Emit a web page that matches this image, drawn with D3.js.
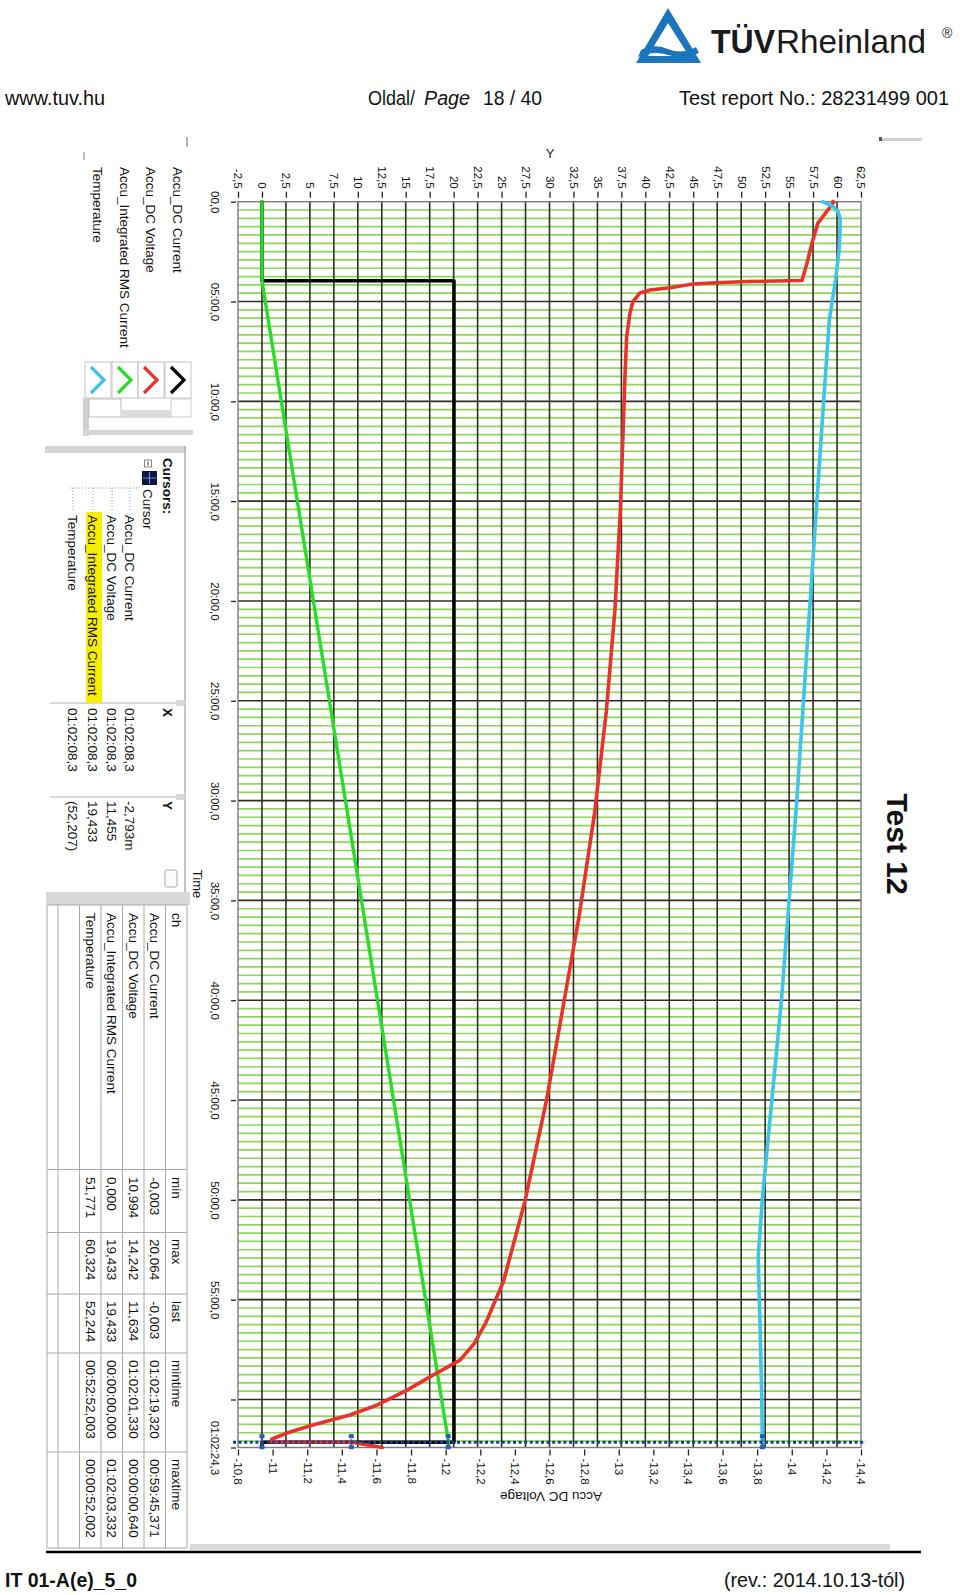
<!DOCTYPE html>
<html><head><meta charset="utf-8">
<script src="https://cdn.jsdelivr.net/npm/d3@7/dist/d3.min.js"></script>
<style>
html,body{margin:0;padding:0;background:#fff;}
svg{display:block;}
</style></head>
<body>
<svg id="c" width="960" height="1595"></svg>
<script>
// ---------------- DATA ----------------
const yAxisTicks = [-2.5,0,2.5,5,7.5,10,12.5,15,17.5,20,22.5,25,27.5,30,32.5,35,37.5,40,42.5,45,47.5,50,52.5,55,57.5,60,62.5];
const yAxisLabels = ["-2,5","0","2,5","5","7,5","10","12,5","15","17,5","20","22,5","25","27,5","30","32,5","35","37,5","40","42,5","45","47,5","50","52,5","55","57,5","60","62,5"];
const timeTicks = [0,5,10,15,20,25,30,35,40,45,50,55,60,62.405];
const timeLabels = ["00,0","05:00,0","10:00,0","15:00,0","20:00,0","25:00,0","30:00,0","35:00,0","40:00,0","45:00,0","50:00,0","55:00,0","","01:02:24,3"];
const voltTicks = [10.8,11.0,11.2,11.4,11.6,11.8,12.0,12.2,12.4,12.6,12.8,13.0,13.2,13.4,13.6,13.8,14.0,14.2,14.4];
const voltLabels = ["-10,8","-11","-11,2","-11,4","-11,6","-11,8","-12","-12,2","-12,4","-12,6","-12,8","-13","-13,2","-13,4","-13,6","-13,8","-14","-14,2","-14,4"];

// Accu_DC Current (black) - minutes / A
const currentTime = [0, 3.96, 3.96, 62.14, 62.14, 62.405];
const currentValue = [0, 0, 20.03, 20.03, 0, 0];
// Accu_Integrated RMS Current (green)
const rmsTime = [0, 3.96, 62.05, 62.405];
const rmsValue = [0, 0, 19.433, 19.433];
// Accu_DC Voltage (red) - plotted on bottom axis
const voltTime = [0,0.03,1.07,2.07,3.07,3.95,4.0,4.06,4.12,4.31,4.42,4.57,5.01,5.58,6.76,8.77,10.27,15.37,20.46,25.56,30.65,35.75,40.84,44.91,50.0,54.09,56.12,57.2,58.03,58.78,59.53,60.28,60.78,61.28,61.63,61.98,62.02,62.13,62.14,62.40];
const voltValue = [14.238,14.242,14.151,14.117,14.088,14.059,13.741,13.566,13.429,13.296,13.181,13.123,13.082,13.065,13.046,13.036,13.03,13.01,12.978,12.928,12.86,12.772,12.668,12.585,12.46,12.334,12.234,12.165,12.083,11.927,11.777,11.603,11.447,11.233,11.10,10.996,10.994,10.995,11.459,11.634];
// Temperature (cyan)
const tempTime = [0,0.25,0.5,0.87,1.5,2.5,3.9,5.9,10,15,20,25,30,35,40,45,50,52.87,56,60,62.14,62.405];
const tempValue = [58.5,59.6,60.1,60.324,60.3,60.2,59.85,59.2,58.6,57.9,57.2,56.5,55.8,55.0,54.2,53.2,52.2,51.771,51.95,52.15,52.207,52.244];

// cursor
const cursorTime = 62.138;
const cursorCurrent = -0.002793, cursorVoltage = 11.455, cursorRms = 19.433, cursorTemp = 52.207;

// legend / tables
const channels = ["Accu_DC Current","Accu_DC Voltage","Accu_Integrated RMS Current","Temperature"];
const channelColors = ["#000000","#e8332b","#2adb2a","#3ec3ec"];
const cursorX = ["01:02:08,3","01:02:08,3","01:02:08,3","01:02:08,3"];
const cursorY = ["-2,793m","11,455","19,433","(52,207)"];
const statHeaders = ["ch","min","max","last","mintime","maxtime"];
const statMin = ["-0,003","10,994","0,000","51,771"];
const statMax = ["20,064","14,242","19,433","60,324"];
const statLast = ["-0,003","11,634","19,433","52,244"];
const statMinTime = ["01:02:19,320","01:02:01,330","00:00:00,000","00:52:52,003"];
const statMaxTime = ["00:59:45,371","00:00:00,640","01:02:03,332","00:00:52,002"];

// ---------------- LAYOUT ----------------
const svg = d3.select("#c");
const X0 = 238, X1 = 861, T0 = 201.7, T1 = 1447.5;
const yScale = d3.scaleLinear().domain([-2.5, 62.5]).range([X0, X1]);
const tScale = d3.scaleLinear().domain([0, 62.405]).range([T0, T1]);
const vScale = d3.scaleLinear().domain([10.8, 14.4]).range([X0, X1]);
const UI = "'Liberation Sans', Arial, sans-serif";
const NARROW = "'Liberation Sans Narrow','Arial Narrow','Liberation Sans',Arial,sans-serif";

function vtext(x, y, str, o = {}) {
  return svg.append("text")
    .attr("transform", `translate(${x},${y}) rotate(${o.rot || 90})`)
    .attr("dy", "0.35em")
    .attr("text-anchor", o.anchor || "start")
    .attr("font-family", o.font || UI)
    .attr("font-size", o.size || 13.5)
    .attr("font-weight", o.weight || "normal")
    .attr("fill", o.fill || "#111")
    .text(str);
}

// ---------------- HEADER ----------------
function htext(x, y, str, size, w, o = {}) {
  const t = svg.append("text").attr("x", x).attr("y", y)
    .attr("font-family", o.font || NARROW).attr("font-size", size)
    .attr("font-weight", o.weight || "normal").attr("font-style", o.style || "normal")
    .attr("fill", o.fill || "#111").text(str);
  if (w) t.attr("textLength", w).attr("lengthAdjust", "spacingAndGlyphs");
  return t;
}
// logo
svg.append("path").attr("d", "M668,8 L701,63 L636,63 Z").attr("fill", "#1b75bc");
svg.append("path").attr("d", "M668,23 L689,56 L648,56 Z").attr("fill", "#fff");
svg.append("path").attr("d", "M641,50 Q654,43 668,49 Q682,55 696,47 L699,53 Q684,60 668,55 Q654,50 638,57 Z").attr("fill", "#1b75bc");
htext(711, 53, "TÜV", 34, 64, {font: UI, weight: "bold", fill: "#1a1a1a"});
htext(776, 53, "Rheinland", 34, 150, {font: UI, fill: "#1a1a1a"});
htext(942, 38, "®", 14, null, {font: UI, fill: "#1a1a1a"});

htext(5, 104.5, "www.tuv.hu", 20.5, 100);
htext(368, 104.5, "Oldal/", 20.5, 47);
htext(424, 104.5, "Page", 20.5, 46, {style: "italic"});
htext(483, 104.5, "18 / 40", 20.5, 59);
htext(679, 104.5, "Test report No.: 28231499 001", 20, 270);

// footer
svg.append("line").attr("x1", 46).attr("x2", 921).attr("y1", 1552).attr("y2", 1552).attr("stroke", "#000").attr("stroke-width", 2.5);
htext(5, 1587, "IT 01-A(e)_5_0", 21, 132, {weight: "bold"});
htext(724, 1587, "(rev.: 2014.10.13-tól)", 21, 181);

// ---------------- PLOT GRID ----------------
const grid = svg.append("g");
// minor horizontal (green) every 25 s
d3.range(0, 62.405, 5 / 12).forEach((m, i) => {
  if (i % 12 === 0) return;
  grid.append("line").attr("x1", X0).attr("x2", X1).attr("y1", tScale(m)).attr("y2", tScale(m))
    .attr("stroke", "#8fd65a").attr("stroke-width", 1.7);
});
// major horizontal
timeTicks.slice(1, 13).forEach(m => {
  grid.append("line").attr("x1", X0).attr("x2", X1).attr("y1", tScale(m)).attr("y2", tScale(m))
    .attr("stroke", "#2e2e22").attr("stroke-width", 1.6);
});
// vertical
yAxisTicks.slice(1, -1).forEach(v => {
  grid.append("line").attr("x1", yScale(v)).attr("x2", yScale(v)).attr("y1", T0).attr("y2", T1)
    .attr("stroke", "#2e2e22").attr("stroke-width", 1.6);
});
svg.append("rect").attr("x", X0).attr("y", T0).attr("width", X1 - X0).attr("height", T1 - T0)
  .attr("fill", "none").attr("stroke", "#7a7a7a").attr("stroke-width", 1.4);

// ---------------- AXES ----------------
const axTop = svg.append("g").attr("transform", `translate(0,${T0})`)
  .call(d3.axisTop(yScale).tickValues(yAxisTicks).tickSize(7).tickFormat((d, i) => yAxisLabels[i]));
axTop.select(".domain").remove();
axTop.selectAll("line").attr("stroke", "#222").attr("stroke-width", 1.3).attr("y1", -4).attr("y2", -10);
axTop.selectAll("text").attr("transform", "rotate(90)").attr("x", -13).attr("y", 0).attr("dy", "0.35em")
  .attr("text-anchor", "end").attr("font-family", UI).attr("font-size", 11.5).attr("fill", "#111");

const axLeft = svg.append("g").attr("transform", `translate(${X0 - 2},0)`)
  .call(d3.axisLeft(tScale).tickValues(timeTicks).tickSize(5).tickFormat((d, i) => timeLabels[i]));
axLeft.select(".domain").remove();
axLeft.selectAll("line").attr("stroke", "#222").attr("stroke-width", 1.3);
axLeft.selectAll("text").attr("transform", "rotate(90)").attr("x", 0).attr("y", 21).attr("dy", "0.35em")
  .attr("text-anchor", "middle").attr("font-family", UI).attr("font-size", 11.5).attr("fill", "#111");

const axBot = svg.append("g").attr("transform", `translate(0,${T1})`)
  .call(d3.axisBottom(vScale).tickValues(voltTicks).tickSize(8).tickFormat((d, i) => voltLabels[i]));
axBot.select(".domain").remove();
axBot.selectAll("line").attr("stroke", "#222").attr("stroke-width", 1.3).attr("y1", 2);
axBot.selectAll("text").attr("transform", "rotate(90)").attr("x", 11).attr("y", 0).attr("dy", "0.35em")
  .attr("text-anchor", "start").attr("font-family", UI).attr("font-size", 11.5).attr("fill", "#111");

// axis titles
svg.append("text").attr("x", 550).attr("y", 158).attr("text-anchor", "middle")
  .attr("font-family", UI).attr("font-size", 13).attr("fill", "#222").text("Y");
vtext(198, 884, "Time", {anchor: "middle", size: 13});
vtext(551, 1497, "Accu DC Voltage", {anchor: "middle", size: 13.5, rot: 180});
// Test 12
vtext(897, 844, "Test 12", {anchor: "middle", size: 30, weight: "bold", fill: "#111"});
// top-right small element
svg.append("rect").attr("x", 882).attr("y", 138).attr("width", 40).attr("height", 3).attr("fill", "#cfcfcf");
svg.append("path").attr("d", "M879,137 l3,0 l0,4 l-3,0 Z").attr("fill", "#555");

// ---------------- SERIES ----------------
const line = d3.line().curve(d3.curveMonotoneY);
function series(times, vals, sx, color, w, lin) {
  const pts = times.map((t, i) => [sx(vals[i]), tScale(t)]);
  const gen = lin ? d3.line() : line;
  svg.append("path").attr("d", gen(pts)).attr("fill", "none").attr("stroke", color)
    .attr("stroke-width", w).attr("stroke-linejoin", "round").attr("stroke-linecap", "round");
}
series(currentTime, currentValue, yScale, "#000", 3.6, true);
series(rmsTime, rmsValue, yScale, "#2adb2a", 3.4, true);
series(voltTime, voltValue, vScale, "#e8332b", 3.6, true);
series(tempTime, tempValue, yScale, "#3ec3ec", 3.6, true);

// cursor
const cy = tScale(cursorTime);
svg.append("line").attr("x1", 233).attr("x2", 866).attr("y1", cy).attr("y2", cy)
  .attr("stroke", "#1f3d96").attr("stroke-width", 3).attr("stroke-dasharray", "3,2.6");
[yScale(cursorCurrent), vScale(cursorVoltage), yScale(cursorRms), yScale(cursorTemp)].forEach(x => {
  svg.append("line").attr("x1", x).attr("x2", x).attr("y1", cy - 7).attr("y2", cy + 6)
    .attr("stroke", "#2a5bb5").attr("stroke-width", 2).attr("stroke-dasharray", "2,2");
  svg.append("rect").attr("x", x - 2.5).attr("y", cy - 8).attr("width", 5).attr("height", 4).attr("fill", "#2a5bb5");
  svg.append("rect").attr("x", x - 2.5).attr("y", cy + 3).attr("width", 5).attr("height", 4).attr("fill", "#2a5bb5");
});

// ---------------- LEGEND PANEL ----------------
svg.append("line").attr("x1", 187).attr("x2", 187).attr("y1", 137).attr("y2", 147).attr("stroke", "#999").attr("stroke-width", 1.5);
svg.append("line").attr("x1", 84).attr("x2", 84).attr("y1", 152).attr("y2", 160).attr("stroke", "#aaa").attr("stroke-width", 1.5);
const legX = [178, 151, 125, 98];
channels.forEach((c, i) => {
  vtext(legX[i], 167, c);
  svg.append("rect").attr("x", legX[i] - 13).attr("y", 362).attr("width", 26).attr("height", 36)
    .attr("fill", "none").attr("stroke", "#c4c4c4").attr("stroke-width", 1);
  svg.append("path").attr("d", `M${legX[i] - 7},${367} L${legX[i] + 6},${380} L${legX[i] - 7},${393}`)
    .attr("fill", "none").attr("stroke", channelColors[i]).attr("stroke-width", 3.2);
});
// slider widget
svg.append("rect").attr("x", 83).attr("y", 398).attr("width", 6).attr("height", 38).attr("fill", "#cfcfcf");
svg.append("rect").attr("x", 83).attr("y", 430).attr("width", 110).attr("height", 5).attr("fill", "#d6d6d6");
svg.append("rect").attr("x", 89).attr("y", 399).attr("width", 32).attr("height", 18).attr("fill", "#fff").attr("stroke", "#bbb");
svg.append("rect").attr("x", 121).attr("y", 410).attr("width", 50).attr("height", 8).attr("fill", "#dcdcdc");
svg.append("rect").attr("x", 171).attr("y", 399).attr("width", 20).attr("height", 18).attr("fill", "#fff").attr("stroke", "#ccc");

// ---------------- CURSORS PANEL ----------------
svg.append("rect").attr("x", 45).attr("y", 446).attr("width", 141).attr("height", 7).attr("fill", "#d4d4d4");
svg.append("line").attr("x1", 185).attr("x2", 185).attr("y1", 446).attr("y2", 892).attr("stroke", "#b0b0b0").attr("stroke-width", 1.5);
svg.append("line").attr("x1", 50).attr("x2", 185).attr("y1", 703).attr("y2", 703).attr("stroke", "#b0b0b0");
svg.append("line").attr("x1", 50).attr("x2", 185).attr("y1", 797).attr("y2", 797).attr("stroke", "#b0b0b0");
svg.append("rect").attr("x", 176).attr("y", 700).attr("width", 9).attr("height", 6).attr("fill", "#d8d8d8");
svg.append("rect").attr("x", 176).attr("y", 794).attr("width", 9).attr("height", 6).attr("fill", "#d8d8d8");
vtext(168, 458, "Cursors:", {weight: "bold"});
svg.append("rect").attr("x", 144.5).attr("y", 460).attr("width", 7).attr("height", 7).attr("fill", "#fff").attr("stroke", "#888");
svg.append("line").attr("x1", 148).attr("x2", 148).attr("y1", 461.5).attr("y2", 465.5).attr("stroke", "#333");
svg.append("rect").attr("x", 142).attr("y", 471).attr("width", 15).attr("height", 14).attr("fill", "#10163a");
svg.append("path").attr("d", "M149.5,472 V484 M143,478 H156").attr("stroke", "#5a8cff").attr("stroke-width", 1.2);
vtext(148, 489, "Cursor");
svg.append("line").attr("x1", 70).attr("x2", 140).attr("y1", 488).attr("y2", 488).attr("stroke", "#999").attr("stroke-dasharray", "1,2");
const curX = [130, 112, 93, 73];
svg.append("rect").attr("x", 86).attr("y", 512).attr("width", 16).attr("height", 191).attr("fill", "#f6f000");
channels.forEach((c, i) => {
  svg.append("line").attr("x1", curX[i]).attr("x2", curX[i]).attr("y1", 488).attr("y2", 510).attr("stroke", "#999").attr("stroke-dasharray", "1,2");
  vtext(curX[i], 515, c);
  vtext(curX[i], 708, cursorX[i]);
  vtext(curX[i], 801, cursorY[i]);
});
vtext(168, 708, "X", {weight: "bold"});
vtext(168, 801, "Y", {weight: "bold"});
svg.append("rect").attr("x", 165).attr("y", 870).attr("width", 12).attr("height", 17).attr("rx", 2)
  .attr("fill", "#fafafa").attr("stroke", "#aaa");

// ---------------- STATS TABLE ----------------
svg.append("rect").attr("x", 46).attr("y", 892).attr("width", 144).attr("height", 13).attr("fill", "#d8d8d8");
svg.append("rect").attr("x", 190).attr("y", 1544).attr("width", 700).attr("height", 6).attr("fill", "#dadada");
const rowLines = [47, 58, 79.5, 101, 122.5, 144, 165.5, 187];
const colLines = [905, 1169.5, 1232.5, 1294, 1353, 1452, 1548];
rowLines.forEach(x => svg.append("line").attr("x1", x).attr("x2", x).attr("y1", 905).attr("y2", 1548).attr("stroke", "#a8a8a8").attr("stroke-width", 1));
colLines.forEach(y => svg.append("line").attr("x1", 47).attr("x2", 187).attr("y1", y).attr("y2", y).attr("stroke", "#a8a8a8").attr("stroke-width", 1));
const colStart = [913, 1177, 1239, 1301, 1360, 1459];
statHeaders.forEach((h, j) => vtext(176.3, colStart[j], h));
const rowCenter = [154.8, 133.3, 111.8, 90.3];
channels.forEach((c, i) => {
  [c, statMin[i], statMax[i], statLast[i], statMinTime[i], statMaxTime[i]].forEach((s, j) => vtext(rowCenter[i], colStart[j], s));
});
</script>
</body></html>
